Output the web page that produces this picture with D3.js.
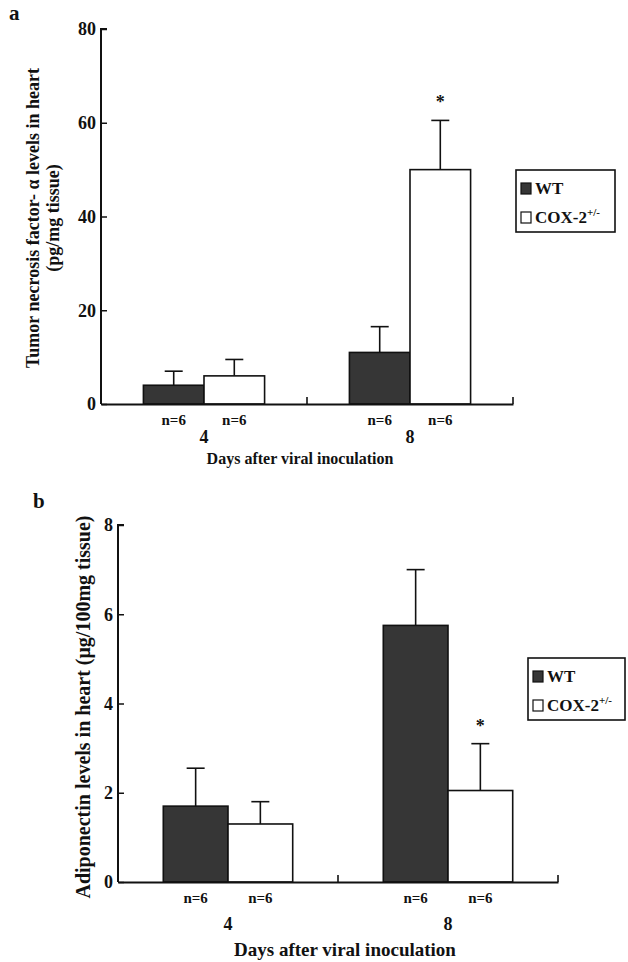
<!DOCTYPE html>
<html>
<head>
<meta charset="utf-8">
<script src="https://cdn.jsdelivr.net/npm/d3@7"></script>
<style>
  html, body { margin: 0; padding: 0; background: #fff; }
  svg text { font-family: "Liberation Serif", "Times New Roman", serif; font-weight: bold; fill: #111; }
</style>
</head>
<body>
<svg id="chart" width="628" height="962"></svg>
<script>
// ---- data ----
const days = ["4", "8"];
const series = ["WT", "COX-2"];
const nLabels = ["n=6", "n=6"];

// Panel a: TNF-alpha (pg/mg tissue)
const tnfWT = [4.0, 11.0];
const tnfWTsd = [3.0, 5.5];
const tnfCOX = [6.0, 50.0];
const tnfCOXsd = [3.5, 10.5];
const tnfTicks = [0, 20, 40, 60, 80];
const tnfStar = [false, true]; // on COX bars

// Panel b: Adiponectin (µg/100mg tissue)
const adiWT = [1.7, 5.75];
const adiWTsd = [0.85, 1.25];
const adiCOX = [1.3, 2.05];
const adiCOXsd = [0.5, 1.05];
const adiTicks = [0, 2, 4, 6, 8];
const adiStar = [false, true];

const svg = d3.select("#chart");

function panel(cfg) {
  const g = svg.append("g");
  const y = d3.scaleLinear().domain([0, cfg.max]).range([cfg.y0, cfg.yTop]);
  const x = d3.scaleBand().domain(days).range([cfg.x0, cfg.x1]).padding(0);
  const xs = d3.scaleBand().domain(series).range([0, x.bandwidth()]).paddingInner(0).paddingOuter(cfg.po);

  const rows = [];
  days.forEach((d, i) => {
    rows.push({day: d, s: "WT", v: cfg.wt[i], sd: cfg.wtsd[i], star: false, n: nLabels[0]});
    rows.push({day: d, s: "COX-2", v: cfg.cox[i], sd: cfg.coxsd[i], star: cfg.star[i], n: nLabels[1]});
  });

  // error bars (upward only)
  const eb = g.append("g").attr("stroke", "#111").attr("stroke-width", 1.6);
  rows.forEach(r => {
    const cx = x(r.day) + xs(r.s) + xs.bandwidth() / 2;
    eb.append("line").attr("x1", cx).attr("x2", cx).attr("y1", y(r.v)).attr("y2", y(r.v + r.sd));
    eb.append("line").attr("x1", cx - 9).attr("x2", cx + 9).attr("y1", y(r.v + r.sd)).attr("y2", y(r.v + r.sd));
  });

  // bars
  g.append("g").selectAll("rect").data(rows).join("rect")
    .attr("x", r => x(r.day) + xs(r.s))
    .attr("width", xs.bandwidth())
    .attr("y", r => y(r.v))
    .attr("height", r => y(0) - y(r.v))
    .attr("fill", r => r.s === "WT" ? "#363636" : "#fff")
    .attr("stroke", "#111").attr("stroke-width", 1.6);

  // stars
  g.append("g").selectAll("text").data(rows.filter(r => r.star)).join("text")
    .attr("x", r => x(r.day) + xs(r.s) + xs.bandwidth() / 2)
    .attr("y", r => y(r.v + r.sd) - 12)
    .attr("text-anchor", "middle").attr("font-size", 18).attr("font-weight", "normal")
    .text("*");

  // n labels
  g.append("g").selectAll("text").data(rows).join("text")
    .attr("x", r => x(r.day) + xs(r.s) + xs.bandwidth() / 2)
    .attr("y", cfg.y0 + 21)
    .attr("text-anchor", "middle").attr("font-size", 15)
    .text(r => r.n);

  // y axis
  const ya = g.append("g").attr("transform", `translate(${cfg.x0},0)`)
    .call(d3.axisLeft(y).tickValues(cfg.ticks).tickSize(5).tickPadding(3).tickFormat(d3.format("d")));
  ya.select(".domain").attr("stroke", "#111").attr("stroke-width", 2).attr("d", `M0,${cfg.y0}V${cfg.yTop}H6`);
  ya.selectAll(".tick line").attr("stroke", "#111").attr("stroke-width", 1.5).attr("x2", 6).attr("x1", 0);
  ya.selectAll(".tick text").attr("font-size", 18).attr("font-family", "Liberation Serif, serif").attr("font-weight", "bold").attr("fill", "#111").attr("x", -5);

  // x axis
  const xa = g.append("g").attr("transform", `translate(0,${cfg.y0})`)
    .call(d3.axisBottom(x).tickSize(0).tickPadding(cfg.catPad));
  xa.select(".domain").attr("stroke", "#111").attr("stroke-width", 2);
  xa.selectAll(".tick text").attr("font-size", 18).attr("font-family", "Liberation Serif, serif").attr("font-weight", "bold").attr("fill", "#111");
  // boundary ticks pointing up
  days.forEach((d, i) => {
    const bx = x(d) + x.bandwidth();
    g.append("line").attr("x1", bx).attr("x2", bx).attr("y1", cfg.y0).attr("y2", cfg.y0 - 7)
      .attr("stroke", "#111").attr("stroke-width", 1.6);
  });

  // x title
  g.append("text").attr("x", cfg.xTitleX).attr("y", cfg.xTitleY)
    .attr("text-anchor", "middle").attr("font-size", cfg.xTitleSize)
    .text("Days after viral inoculation");

  // y title
  cfg.yTitle.forEach((t, i) => {
    g.append("text")
      .attr("transform", `translate(${cfg.yTitleX + i * 20},${cfg.yTitleY}) rotate(-90)`)
      .attr("text-anchor", "middle").attr("font-size", cfg.yTitleSize)
      .text(t);
  });

  // panel letter
  g.append("text").attr("x", cfg.letterX).attr("y", cfg.letterY).attr("font-size", 21).text(cfg.letter);

  // legend
  const lg = g.append("g").attr("transform", `translate(${cfg.legX},${cfg.legY})`);
  lg.append("rect").attr("width", cfg.legW).attr("height", 62).attr("fill", "#fff").attr("stroke", "#111").attr("stroke-width", 1.6);
  series.forEach((s, i) => {
    const row = lg.append("g").attr("transform", `translate(5,${13 + i * 29})`);
    row.append("rect").attr("width", 10).attr("height", 11)
      .attr("fill", s === "WT" ? "#363636" : "#fff").attr("stroke", "#111").attr("stroke-width", 1.2);
    const t = row.append("text").attr("x", 14).attr("y", 11).attr("font-size", 17);
    t.append("tspan").text(s);
    if (s === "COX-2") t.append("tspan").attr("dy", -7).attr("font-size", 11).text("+/-");
  });
}

panel({
  max: 80, ticks: tnfTicks, y0: 404, yTop: 29, x0: 101, x1: 513, po: 0.7, catPad: 26,
  wt: tnfWT, wtsd: tnfWTsd, cox: tnfCOX, coxsd: tnfCOXsd, star: tnfStar,
  xTitleX: 300, xTitleY: 464, xTitleSize: 16,
  yTitle: ["Tumor necrosis factor- \u03B1 levels in heart", "(pg/mg tissue)"], yTitleX: 39, yTitleY: 218, yTitleSize: 18,
  letter: "a", letterX: 9, letterY: 20,
  legX: 516, legY: 170, legW: 99
});

panel({
  max: 8, ticks: adiTicks, y0: 882, yTop: 525, x0: 118, x1: 558, po: 0.7, catPad: 35,
  wt: adiWT, wtsd: adiWTsd, cox: adiCOX, coxsd: adiCOXsd, star: adiStar,
  xTitleX: 345, xTitleY: 956, xTitleSize: 19,
  yTitle: ["Adiponectin levels in heart (\u03BCg/100mg tissue)"], yTitleX: 90, yTitleY: 707, yTitleSize: 20,
  letter: "b", letterX: 33, letterY: 508,
  legX: 528, legY: 658, legW: 97
});
</script>
</body>
</html>
